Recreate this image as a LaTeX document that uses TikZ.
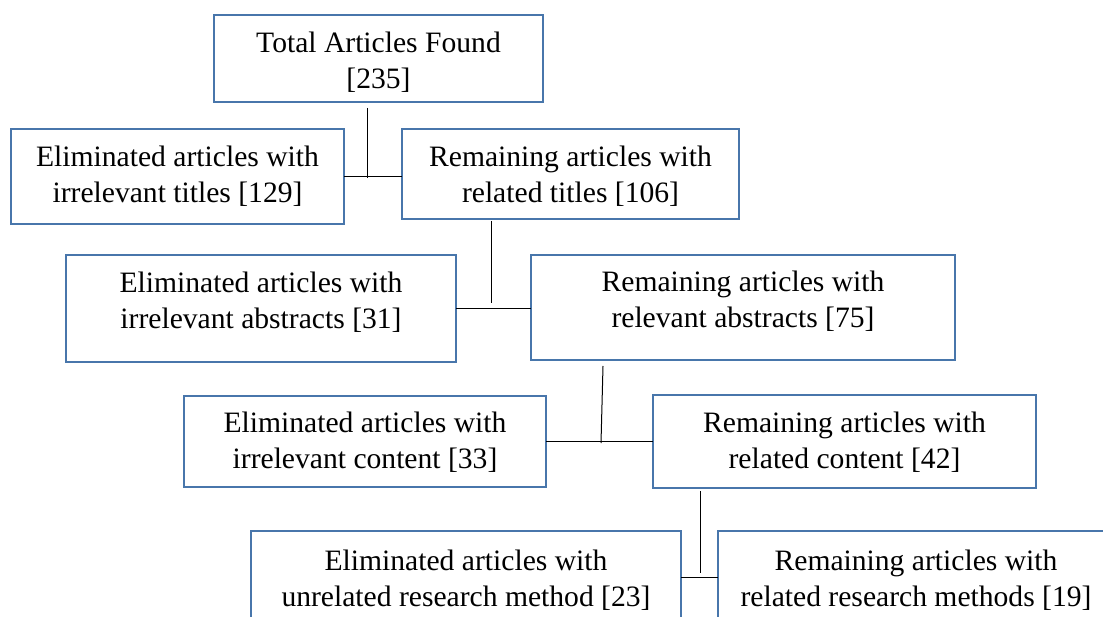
\documentclass[tikz,border=0pt]{standalone}
\usepackage{fontspec}
\setmainfont{Liberation Serif}
\definecolor{boxblue}{RGB}{72,118,171}
\tikzset{
  box/.style={draw=boxblue, line width=2.6pt, fill=white, inner sep=0pt, outer sep=0pt},
  txt/.style={anchor=base, inner sep=0pt, font=\fontsize{29.6pt}{36pt}\selectfont},
  conn/.style={draw=black, line width=1pt}
}
\begin{document}
\begin{tikzpicture}[x=1pt,y=-1pt]
\useasboundingbox (0,0) rectangle (1103,617);
\clip (0,0) rectangle (1103,617);
% boxes
\node[box, minimum width=329pt, minimum height=87pt] (b1) at (378.5,58.5) {};
\node[box, minimum width=333pt, minimum height=95pt] (b2) at (177.5,176.5) {};
\node[box, minimum width=337pt, minimum height=90pt] (b3) at (570.5,174) {};
\node[box, minimum width=390pt, minimum height=107pt] (b4) at (261,308.5) {};
\node[box, minimum width=424pt, minimum height=105pt] (b5) at (743,307.5) {};
\node[box, minimum width=362pt, minimum height=91pt] (b6) at (365,441.5) {};
\node[box, minimum width=383pt, minimum height=93pt] (b7) at (844.5,441.5) {};
\node[box, minimum width=430pt, minimum height=92pt] (b8) at (466,577) {};
\node[box, minimum width=396pt, minimum height=92pt] (b9) at (916,577) {};
% texts
\node[txt] (t1a) at (378.5,53) {Total Articles Found};
\node[txt] (t1b) at (378.5,89) {[235]};
\node[txt] (t2a) at (177.5,167) {Eliminated articles with};
\node[txt] (t2b) at (177.5,203) {irrelevant titles [129]};
\node[txt] (t3a) at (570.5,167) {Remaining articles with};
\node[txt] (t3b) at (570.5,203) {related titles [106]};
\node[txt] (t4a) at (261,293) {Eliminated articles with};
\node[txt] (t4b) at (261,329) {irrelevant abstracts [31]};
\node[txt] (t5a) at (743,292) {Remaining articles with};
\node[txt] (t5b) at (743,328) {relevant abstracts [75]};
\node[txt] (t6a) at (365,432) {Eliminated articles with};
\node[txt] (t6b) at (365,468) {irrelevant content [33]};
\node[txt] (t7a) at (844.5,432) {Remaining articles with};
\node[txt] (t7b) at (844.5,468) {related content [42]};
\node[txt] (t8a) at (466,570) {Eliminated articles with};
\node[txt] (t8b) at (466,606) {unrelated research method [23]};
\node[txt] (t9a) at (916,570) {Remaining articles with};
\node[txt] (t9b) at (916,606) {related research methods [19]};
% connector endpoints
\coordinate (v1a) at (367,108);
\coordinate (v1b) at (367,178);
\coordinate (v2a) at (491,221);
\coordinate (v2b) at (491,303);
\coordinate (v3a) at (603,366);
\coordinate (v3b) at (601,443);
\coordinate (v4a) at (700,491);
\coordinate (v4b) at (700,573);
% connectors
\draw[conn] (v1a) -- (v1b);
\draw[conn] (b2.east) -- (b2.east -| b3.west);
\draw[conn] (v2a) -- (v2b);
\draw[conn] (b4.east) -- (b4.east -| b5.west);
\draw[conn] (v3a) -- (v3b);
\draw[conn] (b6.east) -- (b6.east -| b7.west);
\draw[conn] (v4a) -- (v4b);
\draw[conn] (b8.east) -- (b8.east -| b9.west);
\end{tikzpicture}
\end{document}
